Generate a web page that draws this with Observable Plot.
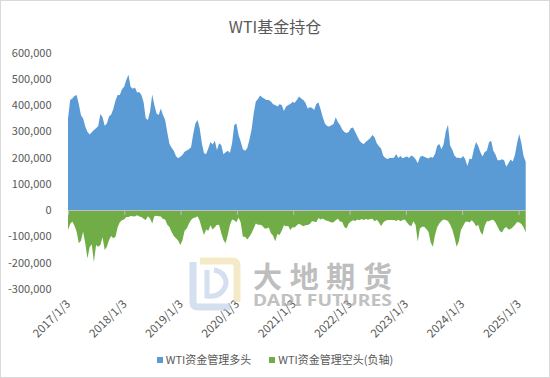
<!DOCTYPE html>
<html><head><meta charset="utf-8">
<script src="https://cdn.jsdelivr.net/npm/d3@7"></script>
<script src="https://cdn.jsdelivr.net/npm/@observablehq/plot@0.6"></script>
<style>
body{margin:0;background:#fff;}
#chart{position:relative;width:550px;height:378px;font-family:"Noto Sans CJK SC","Noto Sans",sans-serif;color:#595959;overflow:hidden;background:#fff;}
#title{height:40px;box-sizing:border-box;padding-top:14px;line-height:24px;font-size:16px;text-align:center;color:#595959;}
#legend{height:38px;box-sizing:border-box;padding-top:10px;line-height:18px;font-size:11px;text-align:center;color:#595959;white-space:nowrap;}
#legend .item{display:inline-block;margin:0 9px;}
#legend .sw{display:inline-block;width:6px;height:6px;margin-right:3px;vertical-align:1px;}
#frame{position:absolute;left:0;top:0;width:550px;height:378px;box-sizing:border-box;border:1px solid #d9d9d9;pointer-events:none;}
#wm{position:absolute;left:0;top:0;pointer-events:none;}
</style>
</head><body>
<div id="chart">
  <div id="title">WTI基金持仓</div>
  <div id="plot"></div>
  <div id="legend"></div>
  <svg id="wm" width="550" height="378"></svg>
  <div id="frame"></div>
</div>
<script>
// Weekly-sampled (every two weeks) positions, in thousand contracts
const startDate = "2017-01-03";
const stepDays = 14;
const longK = [
349,419,425,434,438,404,361,349,318,298,
288,296,305,311,320,366,353,321,330,356,
364,385,417,438,438,460,470,495,515,470,
462,467,448,450,438,411,350,343,375,440,
400,368,362,387,362,343,295,251,237,226,
206,197,203,210,
222,227,231,239,290,330,
343,311,254,216,213,235,259,250,264,229,
254,248,212,220,226,218,254,324,330,286,
260,231,226,235,267,305,368,413,423,436,
429,424,419,419,413,403,400,394,403,400,
377,394,400,404,411,409,419,432,425,419,
409,387,391,390,381,404,410,384,353,330,
320,318,323,328,353,335,324,307,297,293,
297,311,314,298,281,265,255,251,260,267,
274,286,277,254,243,234,207,198,194,198,
198,199,213,198,206,197,201,204,198,208,
203,193,178,201,207,
203,199,196,202,199,213,245,251,231,251,
300,325,246,230,208,199,199,197,206,193,
168,196,193,231,259,244,220,204,221,226,
258,264,226,211,190,190,193,190,165,178,
192,185,210,254,290,254,206,184
];
const shortK = [
76,53,44,60,83,127,117,83,127,185,
142,130,198,133,140,133,104,152,140,114,
99,108,102,66,47,39,36,27,27,23,
24,25,20,25,27,33,38,24,32,51,
24,22,24,25,34,36,56,65,84,99,
108,116,133,116,
79,70,52,38,30,29,
24,41,70,95,74,79,58,74,66,56,
57,89,114,127,95,57,36,39,47,29,
48,102,102,112,102,89,70,51,56,56,
60,70,70,67,89,98,119,91,95,79,
58,62,61,76,66,67,58,52,57,62,
58,57,53,43,44,47,30,36,32,38,
41,44,48,47,39,33,44,46,65,70,
52,44,39,42,36,39,34,38,34,37,
34,33,43,37,47,62,48,41,38,38,
38,38,42,37,43,38,36,48,57,62,
43,57,121,70,64,
64,72,84,124,140,95,66,51,42,36,
38,42,55,74,104,140,121,76,61,46,
44,48,39,48,62,56,83,95,61,43,
43,38,37,48,64,80,86,70,65,74,
72,66,57,46,48,53,66,86
];
const xTickLabels = ["2017-01-03","2018-01-03","2019-01-03","2020-01-03","2021-01-03","2022-01-03","2023-01-03","2024-01-03","2025-01-03"];
const yTicks = [-300000,-200000,-100000,0,100000,200000,300000,400000,500000,600000];
const seriesNames = ["WTI资金管理多头","WTI资金管理空头(负轴)"];
const colors = ["#5b9bd5","#70ad47"];

const t0 = new Date(startDate + "T00:00:00Z");
const dayMs = 86400000;
const table = longK.map((v, i) => ({
  date: new Date(t0.getTime() + i * stepDays * dayMs),
  long: v * 1000,
  short: -shortK[i] * 1000
}));
const tickDates = xTickLabels.map(s => new Date(s + "T00:00:00Z"));
const fmtDate = d => `${d.getUTCFullYear()}/${d.getUTCMonth()+1}/${d.getUTCDate()}`;

const chart = Plot.plot({
  width: 550,
  height: 300,
  marginTop: 12.5,
  marginBottom: 51.25,
  marginLeft: 68,
  marginRight: 24.3,
  style: {fontFamily: '"Noto Sans CJK SC","Noto Sans",sans-serif', fontSize: "11px", color: "#595959", background: "transparent"},
  x: {type: "utc", domain: [table[0].date, table[table.length - 1].date]},
  y: {domain: [yTicks[0], yTicks[yTicks.length - 1]]},
  marks: [
    Plot.areaY(table, {x: "date", y1: 0, y2: "long", fill: colors[0]}),
    Plot.areaY(table, {x: "date", y1: 0, y2: "short", fill: colors[1]}),
    Plot.ruleY([0], {stroke: "#bfbfbf", strokeWidth: 1.2}),
    Plot.ruleX(tickDates, {x: d => d, y1: 0, y2: 0, insetBottom: -5, stroke: "#bfbfbf"}),
    Plot.axisY({ticks: yTicks, tickSize: 0, tickPadding: 17, tickFormat: d => d.toLocaleString("en-US"), fontSize: 11}),
    Plot.axisX({ticks: tickDates, tickFormat: fmtDate, tickRotate: -45, tickSize: 0, tickPadding: 13, fontSize: 11.5})
  ]
});
document.getElementById("plot").appendChild(chart);

const legend = document.getElementById("legend");
seriesNames.forEach((n, i) => {
  const it = document.createElement("span");
  it.className = "item";
  it.innerHTML = `<span class="sw" style="background:${colors[i]}"></span>${n}`;
  legend.appendChild(it);
});

// watermark
const wm = d3.select("#wm");
const g = wm.append("g").attr("opacity", 0.7);
g.append("path").attr("d", "M200,261 L232,261 Q237,261 237,266 L237,302").attr("fill", "none").attr("stroke", "#f1e2b0").attr("stroke-width", 7);
g.append("path").attr("d", "M193,262 L193,302 Q193,307 198,307 L230,307").attr("fill", "none").attr("stroke", "#c3d4ea").attr("stroke-width", 7);
g.append("path").attr("d", "M207,270 L207,296 Q222,298 226,284 Q226,272 214,270").attr("fill", "none").attr("stroke", "#c3d4ea").attr("stroke-width", 5);
g.append("text").attr("x", 253).attr("y", 288).attr("font-size", 29).attr("font-weight", 700)
  .attr("fill", "#a3a3a3").attr("textLength", 139).attr("lengthAdjust", "spacing")
  .attr("font-family", '"Noto Sans CJK SC",sans-serif').text("大地期货");
g.append("text").attr("x", 253).attr("y", 306).attr("font-size", 16).attr("font-weight", 700)
  .attr("fill", "#a8a8a8").attr("textLength", 139).attr("lengthAdjust", "spacingAndGlyphs")
  .attr("font-family", '"Noto Sans",sans-serif').text("DADI FUTURES");
</script>
</body></html>
